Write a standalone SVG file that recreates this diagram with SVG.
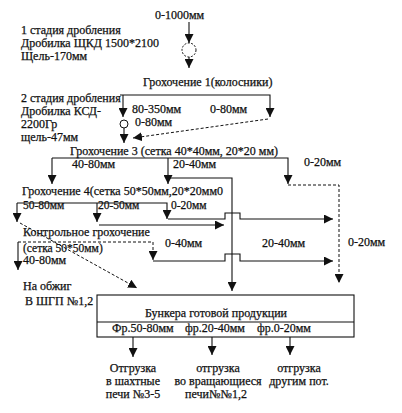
<svg xmlns="http://www.w3.org/2000/svg" width="402" height="413" viewBox="0 0 402 413">
<defs>
<marker id="ah" markerUnits="userSpaceOnUse" markerWidth="9" markerHeight="9" refX="9" refY="4.5" orient="auto" viewBox="0 0 9 9">
<path d="M0,0 L9,4.5 L0,9 z" fill="#111"/>
</marker>
</defs>
<style>
text{font-family:"Liberation Serif","Times New Roman",serif;font-size:12px;fill:#111;stroke:#111;stroke-width:0.25}
.s{font-size:11.5px}
.c{text-anchor:middle}
.ln{fill:none;stroke:#111;stroke-width:1.1}
.dl{fill:none;stroke:#111;stroke-width:1;stroke-dasharray:3 2}
</style>
<rect width="402" height="413" fill="#fff"/>

<g id="stage1">
<text x="21" y="34">1 стадия дробления</text>
<text x="21" y="47">Дробилка ЩКД 1500*2100</text>
<text x="21" y="60">Щель-170мм</text>
</g>
<g id="input">
<text x="155" y="19">0-1000мм</text>
</g>
<g id="crusher1">
<circle cx="189" cy="50" r="7" fill="none" stroke="#111" stroke-width="1" stroke-dasharray="2 1.5"/>
</g>
<g id="screen1">
<text x="143" y="86">Грохочение 1(колосники)</text>
</g>
<g id="stage2">
<text x="21" y="102">2 стадия дробления</text>
<text x="21" y="115">Дробилка КСД-</text>
<text x="21" y="128">2200Гр</text>
<text x="21" y="141">щель-47мм</text>
</g>
<g id="crusher2">
<circle cx="124" cy="124" r="4" fill="none" stroke="#111" stroke-width="1"/>
</g>
<g id="screen3">
<text x="70" y="155">Грохочение 3 (сетка 40*40мм, 20*20 мм)</text>
</g>
<g id="screen4">
<text x="22" y="195">Грохочение 4(сетка 50*50мм,20*20мм0</text>
</g>
<g id="control">
<text x="23" y="236">Контрольное грохочение</text>
<text x="23" y="252" class="s">(сетка 50*50мм)</text>
</g>
<g id="roast">
<text x="23" y="290">На обжиг</text>
<text x="25" y="305">В ШГП №1,2</text>
</g>
<g id="bunker">
<rect x="97" y="295" width="257" height="42" fill="none" stroke="#111" stroke-width="1.1"/>
<line x1="97" y1="322" x2="354" y2="322" stroke="#111" stroke-width="1.1"/>
<text x="145" y="317">Бункера готовой продукции</text>
<text x="112" y="332">Фр.50-80мм</text>
<text x="185" y="332">фр.20-40мм</text>
<text x="257" y="332">фр.0-20мм</text>
</g>
<g id="out1">
<text class="c" x="133" y="372">Отгрузка</text>
<text class="c" x="133" y="385">в шахтные</text>
<text class="c" x="133" y="398">печи №3-5</text>
</g>
<g id="out2">
<text class="c" x="218" y="372">отгрузка</text>
<text class="c" x="218" y="385">во вращающиеся</text>
<text class="c" x="216" y="398">печи№№1,2</text>
</g>
<g id="out3">
<text class="c" x="299" y="372">отгрузка</text>
<text class="c" x="299" y="385">другим пот.</text>
</g>

<g id="labels">
<text x="132" y="113">80-350мм</text>
<text x="210" y="113">0-80мм</text>
<text x="135" y="126">0-80мм</text>
<text x="72" y="168">40-80мм</text>
<text x="173" y="168">20-40мм</text>
<text x="304" y="166">0-20мм</text>
<text x="23" y="209" class="s">50-80мм</text>
<text x="98" y="209" class="s">20-50мм</text>
<text x="171" y="209" class="s">0-20мм</text>
<text x="165" y="247">0-40мм</text>
<text x="262" y="247">20-40мм</text>
<text x="348" y="246">0-20мм</text>
<text x="23" y="264">40-80мм</text>
</g>

<g id="connectors">
<path class="ln" d="M189,22 V43" marker-end="url(#ah)"/>
<path class="ln" d="M189,57 V68" marker-end="url(#ah)"/>
<path class="ln" d="M120,95 H270 V117" marker-end="url(#ah)"/>
<path class="ln" d="M123,95 V117" marker-end="url(#ah)"/>
<path class="dl" d="M268,119 L133,138" marker-end="url(#ah)"/>
<path class="ln" d="M124,128 V143" marker-end="url(#ah)"/>
<path class="ln" d="M52,158 V184" marker-end="url(#ah)"/>
<path class="ln" d="M52,158 H288 V184" marker-end="url(#ah)"/>
<path class="ln" d="M168,158 V184" marker-end="url(#ah)"/>
<path class="dl" d="M288,185 H339 V283" marker-end="url(#ah)"/>
<path class="ln" d="M168,178 H232 V291" marker-end="url(#ah)"/>
<path class="ln" d="M17,203 V222" marker-end="url(#ah)"/>
<path class="ln" d="M17,203 H167 V219" marker-end="url(#ah)"/>
<path class="ln" d="M97,203 V222" marker-end="url(#ah)"/>
<path class="ln" d="M99,225 H224" marker-end="url(#ah)"/>
<path class="ln" d="M168,219 H225 V213 H240 V219 H333" marker-end="url(#ah)"/>
<path class="dl" d="M20,223 L137,288" marker-end="url(#ah)"/>
<path class="ln" d="M18,242 V270" marker-end="url(#ah)"/>
<path class="dl" d="M18,242 H153 V260" marker-end="url(#ah)"/>
<path class="ln" d="M153,261 H225 V254 H240 V261 H333" marker-end="url(#ah)"/>
<path class="ln" d="M133,337 V357" marker-end="url(#ah)"/>
<path class="ln" d="M212,337 V355" marker-end="url(#ah)"/>
<path class="ln" d="M290,337 V355" marker-end="url(#ah)"/>
</g>
</svg>
